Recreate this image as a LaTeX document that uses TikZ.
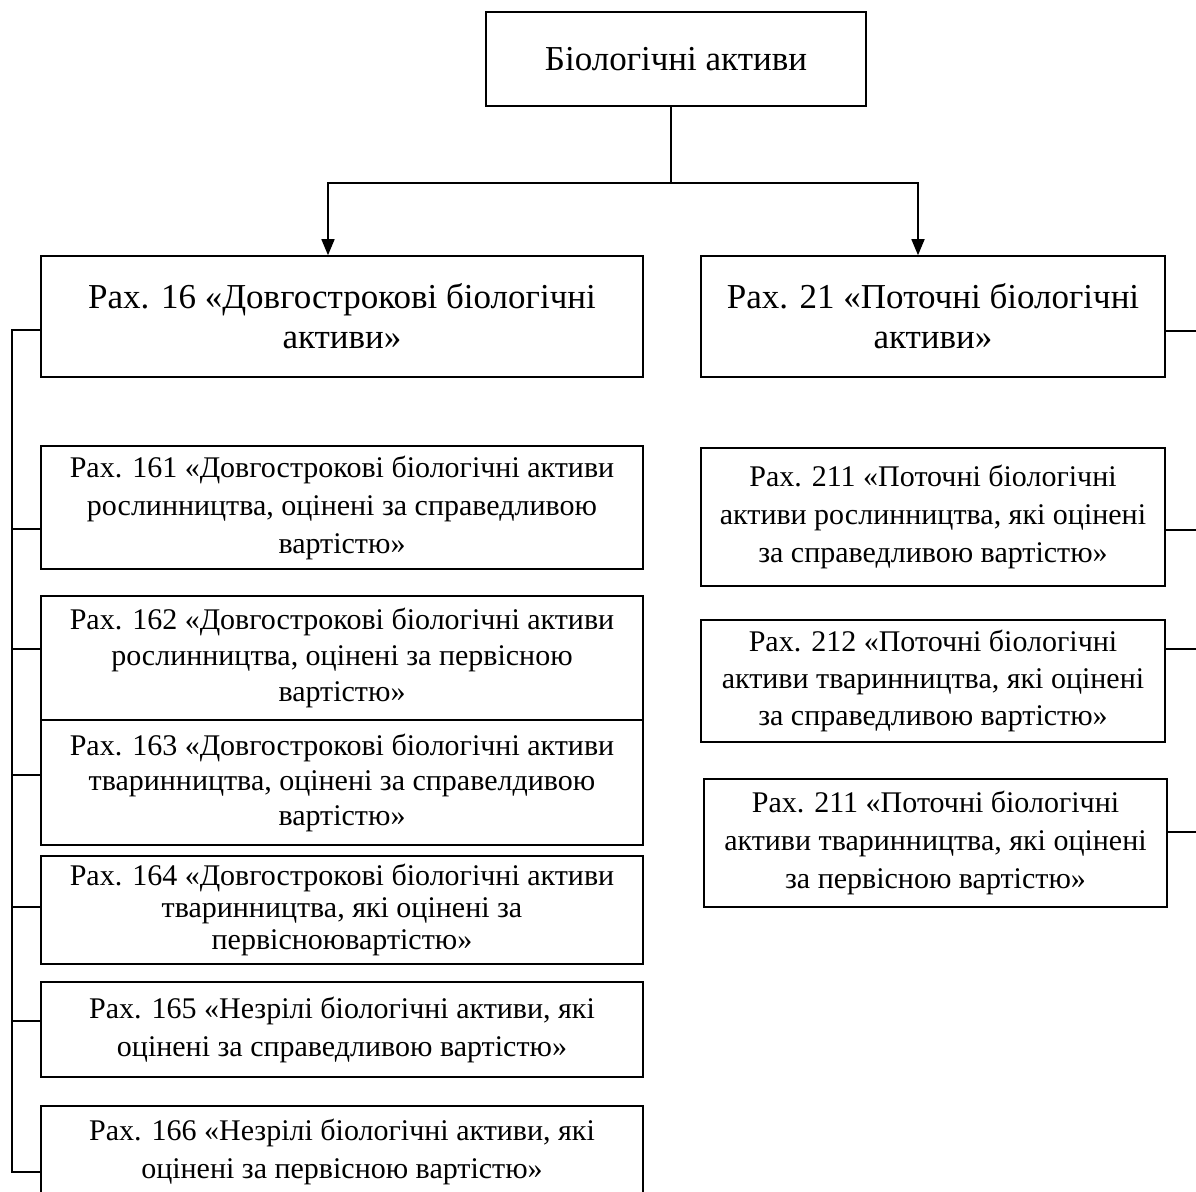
\documentclass[tikz,border=0pt]{standalone}
\usepackage{fontspec}
\setmainfont{Liberation Serif}
\usetikzlibrary{arrows.meta}
\begin{document}
\begin{tikzpicture}[x=1pt,y=-1pt,
  box/.style={draw, line width=1.6pt, inner sep=0pt, align=center, fill=white},
  bigbox/.style={box, font={\fontsize{35}{40}\selectfont}},
  smallbox/.style={box, font={\fontsize{30}{38}\selectfont}},
  link/.style={line width=1.6pt},
  arrow/.style={link, -{Triangle[length=16pt,width=13pt]}}]
\useasboundingbox (0,0) rectangle (1196,1191);
\clip (0,0) rectangle (1196,1191);

% top node
\node[bigbox, minimum width=380pt, minimum height=94pt] (top) at (676,59) {Біологічні активи};

% second level
\node[bigbox, minimum width=602pt, minimum height=121pt] (b16) at (342,316.5)
  {Рах. 16 «Довгострокові біологічні\\активи»};
\node[bigbox, minimum width=464pt, minimum height=121pt] (b21) at (933,316.5)
  {Рах. 21 «Поточні біологічні\\активи»};

% sub-accounts of account 16
\node[smallbox, minimum width=602pt, minimum height=123pt] (b161) at (342,507.5)
  {Рах. 161 «Довгострокові біологічні активи\\рослинництва, оцінені за справедливою\\вартістю»};
\node[smallbox, minimum width=602pt, minimum height=124pt,
      font={\fontsize{30}{36}\selectfont}] (b162) at (342,658)
  {Рах. 162 «Довгострокові біологічні активи\\рослинництва, оцінені за первісною\\вартістю»};
\node[smallbox, minimum width=602pt, minimum height=125pt,
      font={\fontsize{30}{35}\selectfont}] (b163) at (342,782.5)
  {Рах. 163 «Довгострокові біологічні активи\\тваринництва, оцінені за справелдивою\\вартістю»};
\node[smallbox, minimum width=602pt, minimum height=108pt,
      font={\fontsize{30}{32}\selectfont}] (b164) at (342,910)
  {Рах. 164 «Довгострокові біологічні активи\\тваринництва, які оцінені за\\первісноювартістю»};
\node[smallbox, minimum width=602pt, minimum height=95pt] (b165) at (342,1029.5)
  {Рах. 165 «Незрілі біологічні активи, які\\оцінені за справедливою вартістю»};
\node[smallbox, minimum width=602pt, minimum height=92pt] (b166) at (342,1152)
  {Рах. 166 «Незрілі біологічні активи, які\\оцінені за первісною вартістю»};

% sub-accounts of account 21
\node[smallbox, minimum width=464pt, minimum height=138pt] (b211) at (933,517)
  {Рах. 211 «Поточні біологічні\\активи рослинництва, які оцінені\\за справедливою вартістю»};
\node[smallbox, minimum width=464pt, minimum height=122pt,
      font={\fontsize{30}{37}\selectfont}] (b212) at (933,681)
  {Рах. 212 «Поточні біологічні\\активи тваринництва, які оцінені\\за справедливою вартістю»};
\node[smallbox, minimum width=463pt, minimum height=128pt] (b213) at (935.5,843)
  {Рах. 211 «Поточні біологічні\\активи тваринництва, які оцінені\\за первісною вартістю»};

% branching arrows from the top node
\coordinate (split) at (671,183);
\draw[link] (top.south -| split) -- (split);
\draw[arrow] (split) -| ([xshift=-14pt]b16.north);
\draw[arrow] (split) -| ([xshift=-15pt]b21.north);

% left bus with stubs
\coordinate (l16) at (12,330);
\coordinate (l161) at (12,529);
\coordinate (l162) at (12,649);
\coordinate (l163) at (12,775);
\coordinate (l164) at (12,907);
\coordinate (l165) at (12,1021);
\coordinate (l166) at (12,1172);
\draw[link] (b16.west |- l16) -- (l16) -- (l166) -- (b166.west |- l166);
\foreach \n in {161,162,163,164,165}
  \draw[link] (l\n) -- (b\n.west |- l\n);

% right stubs running off the edge
\coordinate (r21) at (1196,331);
\coordinate (r211) at (1196,530);
\coordinate (r212) at (1196,649);
\coordinate (r213) at (1196,832);
\foreach \n in {21,211,212,213}
  \draw[link] (b\n.east |- r\n) -- (r\n);
\end{tikzpicture}
\end{document}
